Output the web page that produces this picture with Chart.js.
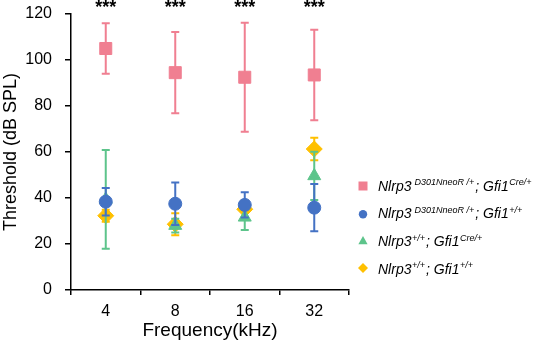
<!DOCTYPE html>
<html><head><meta charset="utf-8">
<script src="https://cdn.jsdelivr.net/npm/chart.js@4/dist/chart.umd.min.js"></script>
<style>html,body{margin:0;padding:0;background:#fff}#wrap{position:relative;width:536px;height:342px}</style>
</head><body><div id="wrap"><canvas id="c" width="536" height="342"></canvas></div>
<script>
const categories = ['4', '8', '16', '32'];
const mutCreMean = [105, 94.5, 92.5, 93.5];
const mutCreErr  = [11, 17.7, 23.7, 19.7];
const mutWtMean  = [38.4, 37.5, 37, 35.8];
const mutWtErr   = [6, 9.2, 5.5, 10.3];
const wtCreMean  = [39.4, 28, 31.6, 49.6];
const wtCreErr   = [21.5, 3, 5.5, 10.5];
const wtWtMean   = [32.3, 28.6, 35.1, 61.3];
const wtWtErr    = [2.6, 4.8, 3.7, 4.9];
const significance = ['***', '***', '***', '***'];
const yMin = 0, yMax = 120, yStep = 20;
const xTitle = 'Frequency(kHz)';
const yTitle = 'Threshold (dB SPL)';
// legend text: [main, superscript] pairs
const legendLabels = [
  [['Nlrp3', ' D301NneoR /+'], ['; Gfi1', 'Cre/+']],
  [['Nlrp3', ' D301NneoR /+'], ['; Gfi1', '+/+']],
  [['Nlrp3', '+/+'], ['; Gfi1', 'Cre/+']],
  [['Nlrp3', '+/+'], ['; Gfi1', '+/+']]
];

const FONT = '"Liberation Sans", Arial, sans-serif';
const colors = ['#F07F91', '#4472C4', '#5DC48B', '#FFC000'];
const errs = [mutCreErr, mutWtErr, wtCreErr, wtWtErr];
const styles = ['rect', 'circle', 'triangle', 'rectRot'];
const radii = [8.5, 6.5, 7.5, 8];

function mk(i, data) {
  return {
    data: data, showLine: false, pointStyle: styles[i], pointRadius: radii[i], pointHoverRadius: radii[i],
    backgroundColor: colors[i], borderColor: colors[i], borderWidth: 1
  };
}

const errorBars = {
  id: 'errorBars',
  beforeDatasetDraw(chart, args) {
    const ds = chart.data.datasets[args.index];
    const err = errs[args.index];
    const xs = chart.scales.x, ys = chart.scales.y, ctx = chart.ctx;
    ctx.save();
    ctx.strokeStyle = colors[args.index];
    ctx.lineWidth = 2;
    ds.data.forEach((v, i) => {
      const x = xs.getPixelForValue(i);
      const t = ys.getPixelForValue(v + err[i]);
      const b = ys.getPixelForValue(v - err[i]);
      ctx.beginPath();
      ctx.moveTo(x, t); ctx.lineTo(x, b);
      ctx.moveTo(x - 4, t); ctx.lineTo(x + 4, t);
      ctx.moveTo(x - 4, b); ctx.lineTo(x + 4, b);
      ctx.stroke();
    });
    ctx.restore();
  }
};

function drawMarker(ctx, style, x, y, color) {
  ctx.save();
  ctx.fillStyle = color;
  ctx.beginPath();
  if (style === 'rect') ctx.rect(x - 4.5, y - 4.5, 9, 9);
  else if (style === 'circle') ctx.arc(x, y, 4.2, 0, Math.PI * 2);
  else if (style === 'triangle') { ctx.moveTo(x, y - 4.5); ctx.lineTo(x + 4.6, y + 3.8); ctx.lineTo(x - 4.6, y + 3.8); ctx.closePath(); }
  else { ctx.moveTo(x, y - 5); ctx.lineTo(x + 5, y); ctx.lineTo(x, y + 5); ctx.lineTo(x - 5, y); ctx.closePath(); }
  ctx.fill();
  ctx.restore();
}

const extras = {
  id: 'extras',
  afterDraw(chart) {
    const ctx = chart.ctx, xs = chart.scales.x;
    ctx.save();
    ctx.fillStyle = '#000';
    ctx.font = 'bold 18px ' + FONT;
    ctx.textAlign = 'center';
    ctx.textBaseline = 'alphabetic';
    significance.forEach((s, i) => ctx.fillText(s, xs.getPixelForValue(i), 13));
    // legend
    const baselines = [190.7, 218.3, 246, 273.6];
    const markerY = [186, 214.3, 240.5, 268];
    legendLabels.forEach((row, r) => {
      drawMarker(ctx, styles[r], 363, markerY[r], colors[r]);
      let x = 378;
      ctx.textAlign = 'left';
      ctx.fillStyle = '#000';
      row.forEach(([main, sup]) => {
        ctx.font = 'italic 14px ' + FONT;
        ctx.fillText(main, x, baselines[r]);
        x += ctx.measureText(main).width;
        ctx.font = 'italic 9px ' + FONT;
        ctx.fillText(sup, x + 0.5, baselines[r] - 5.5);
        x += ctx.measureText(sup).width + 1.5;
      });
    });
    ctx.restore();
  }
};

new Chart(document.getElementById('c'), {
  type: 'line',
  data: {
    labels: categories,
    datasets: [mk(0, mutCreMean), mk(1, mutWtMean), mk(2, wtCreMean), mk(3, wtWtMean)]
  },
  options: {
    responsive: false, animation: false,
    layout: { padding: { top: 14, right: 187, left: 0, bottom: 0 } },
    plugins: { legend: { display: false }, tooltip: { enabled: false } },
    scales: {
      x: {
        type: 'category', offset: true,
        afterFit(scale) { scale.height = 52; scale.paddingLeft = 0; scale.paddingRight = 0; },
        grid: { offset: true, drawOnChartArea: false, tickLength: 5, color: '#000', lineWidth: 1.5 },
        border: { color: '#000', width: 1.5 },
        ticks: { color: '#000', font: { family: FONT, size: 16, lineHeight: 1 }, padding: 9 },
        title: { display: true, text: xTitle, color: '#000', font: { family: FONT, size: 19, lineHeight: 1.2 }, padding: { top: 0, bottom: 0 } }
      },
      y: {
        min: yMin, max: yMax,
        afterFit(scale) { scale.width = 71; scale.paddingTop = 0; scale.paddingBottom = 0; },
        grid: { drawOnChartArea: false, tickLength: 6, color: '#000', lineWidth: 1.5 },
        border: { color: '#000', width: 1.5 },
        ticks: { stepSize: yStep, color: '#000', font: { family: FONT, size: 16 }, padding: 13 },
        title: { display: true, text: yTitle, color: '#000', font: { family: FONT, size: 18, lineHeight: 1.2 }, padding: { top: 0, bottom: 0 } }
      }
    }
  },
  plugins: [errorBars, extras]
});
</script></body></html>
